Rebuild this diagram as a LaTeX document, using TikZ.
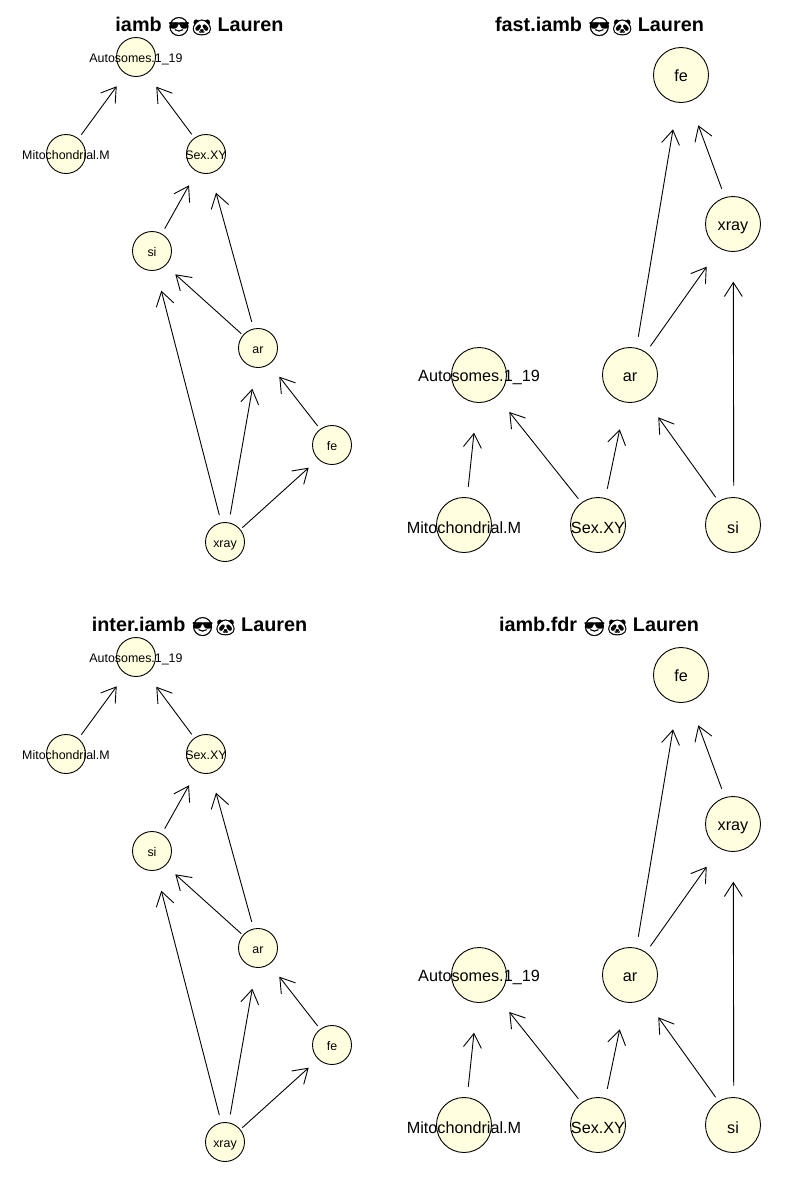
\documentclass[tikz,border=0pt]{standalone}
\usepackage{fontspec}
\setmainfont{Liberation Sans}
\newfontfamily\emojifont{Noto Emoji}[FakeBold=1.5]
\usetikzlibrary{arrows.meta}
\definecolor{nodefill}{HTML}{FFFFE0}
\tikzset{
  px/.style={x=1pt,y=-1pt},
  netnode/.style={circle,draw=black,fill=nodefill,line width=0.9pt,inner sep=0pt,text=black,text height=0.72em,text depth=0pt},
  smallnode/.style={netnode,minimum size=39pt,font=\fontsize{12.4pt}{14pt}\selectfont},
  bignode/.style={netnode,minimum size=55pt,font=\fontsize{16.2pt}{18pt}\selectfont},
  edgeline/.style={draw=black,line width=0.9pt,-{Straight Barb[length=14pt,width=18pt,line width=0.9pt]}},
  paneltitle/.style={inner sep=0pt,font=\fontsize{19.8pt}{22pt}\selectfont\bfseries,text=black},
}
\newcommand{\labS}[1]{\raisebox{-2.2pt}{\makebox[0pt][c]{#1}}}
\newcommand{\labB}[1]{\raisebox{-3pt}{\makebox[0pt][c]{#1}}}
\newcommand{\labC}[1]{\raisebox{-4.5pt}{\makebox[0pt][c]{#1}}}
\newcommand{\conn}[6]{\draw[edgeline] ([shift={(#3,#4)}]#1.center) -- ([shift={(#5,#6)}]#2.center);}
\newcommand{\ttl}[1]{#1 \raisebox{-1.5pt}{\emojifont\fontsize{18.5pt}{20pt}\selectfont\char"1F60E}\hspace{1pt}\raisebox{-1.5pt}{\emojifont\fontsize{16pt}{20pt}\selectfont\char"1F43C} Lauren}
\newcommand{\panelA}[2]{%
\begin{scope}[shift={(0,#2)},name prefix=#1-]
  \conn{Mito}{Auto}{15.3}{-19.3}{-19.3}{29.3}
  \conn{Sex}{Auto}{-14.3}{-19.7}{20.3}{29.7}
  \conn{si}{Sex}{12.7}{-22.3}{-17}{31.3}
  \conn{ar}{Sex}{-6.3}{-26.3}{10}{38.7}
  \conn{ar}{si}{-16.7}{-14.3}{23.3}{23.3}
  \conn{xray}{si}{-5.7}{-27}{9.3}{39.7}
  \conn{xray}{ar}{5.3}{-27.7}{-5.7}{40.7}
  \conn{xray}{fe}{17.3}{-14.3}{-23.3}{22.7}
  \conn{fe}{ar}{-14.3}{-19}{21.3}{28.7}
\end{scope}}
\newcommand{\nodesA}[2]{%
\begin{scope}[shift={(0,#2)},name prefix=#1-]
  \node[smallnode] (Auto) at (136,57) {\labS{Autosomes.1\_19}};
  \node[smallnode] (Mito) at (66,154) {\labS{Mitochondrial.M}};
  \node[smallnode] (Sex) at (206,154) {\labS{Sex.XY}};
  \node[smallnode] (si) at (152,251) {\labS{si}};
  \node[smallnode] (ar) at (258,348) {\labS{ar}};
  \node[smallnode] (fe) at (332,445) {\labS{fe}};
  \node[smallnode] (xray) at (225,542) {\labS{xray}};
\end{scope}}
\newcommand{\nodesB}[2]{%
\begin{scope}[shift={(0,#2)},name prefix=#1-]
  \node[bignode] (fe) at (681,75) {\labB{fe}};
  \node[bignode] (xray) at (733,224) {\labB{xray}};
  \node[bignode] (Auto) at (479,375) {\labB{Autosomes.1\_19}};
  \node[bignode] (ar) at (630,375) {\labB{ar}};
  \node[bignode] (Mito) at (464,525) {\labC{Mitochondrial.M}};
  \node[bignode] (Sex) at (598,525) {\labC{Sex.XY}};
  \node[bignode] (si) at (733,525) {\labC{si}};
\end{scope}}
\newcommand{\panelB}[2]{%
\begin{scope}[shift={(0,#2)},name prefix=#1-]
  \conn{Mito}{Auto}{4.3}{-38.3}{-5}{57.7}
  \conn{Sex}{Auto}{-19.7}{-26.3}{30.3}{37}
  \conn{Sex}{ar}{9.3}{-36.3}{-10.3}{54.3}
  \conn{si}{ar}{-17.3}{-27.7}{28.3}{42.3}
  \conn{si}{xray}{0.7}{-39.3}{0.3}{57.7}
  \conn{ar}{xray}{20.3}{-28.7}{-26.3}{42.7}
  \conn{ar}{fe}{8.3}{-38.3}{-8}{54.3}
  \conn{xray}{fe}{-11.3}{-35.3}{17.3}{50.3}
\end{scope}}
\begin{document}
\begin{tikzpicture}[px]
  \useasboundingbox[fill=white] (0,0) rectangle (800,1200);
  \nodesA{a}{0}
  \panelA{a}{0}
  \nodesB{b}{0}
  \panelB{b}{0}
  \nodesA{c}{600}
  \panelA{c}{600}
  \nodesB{d}{600}
  \panelB{d}{600}
  \node[paneltitle] (t1) at (199.5,26.5) {\ttl{iamb}};
  \node[paneltitle] (t2) at (599.5,26.5) {\ttl{fast.iamb}};
  \node[paneltitle] (t3) at (199.5,626.5) {\ttl{inter.iamb}};
  \node[paneltitle] (t4) at (599,626.5) {\ttl{iamb.fdr}};
\end{tikzpicture}
\end{document}
